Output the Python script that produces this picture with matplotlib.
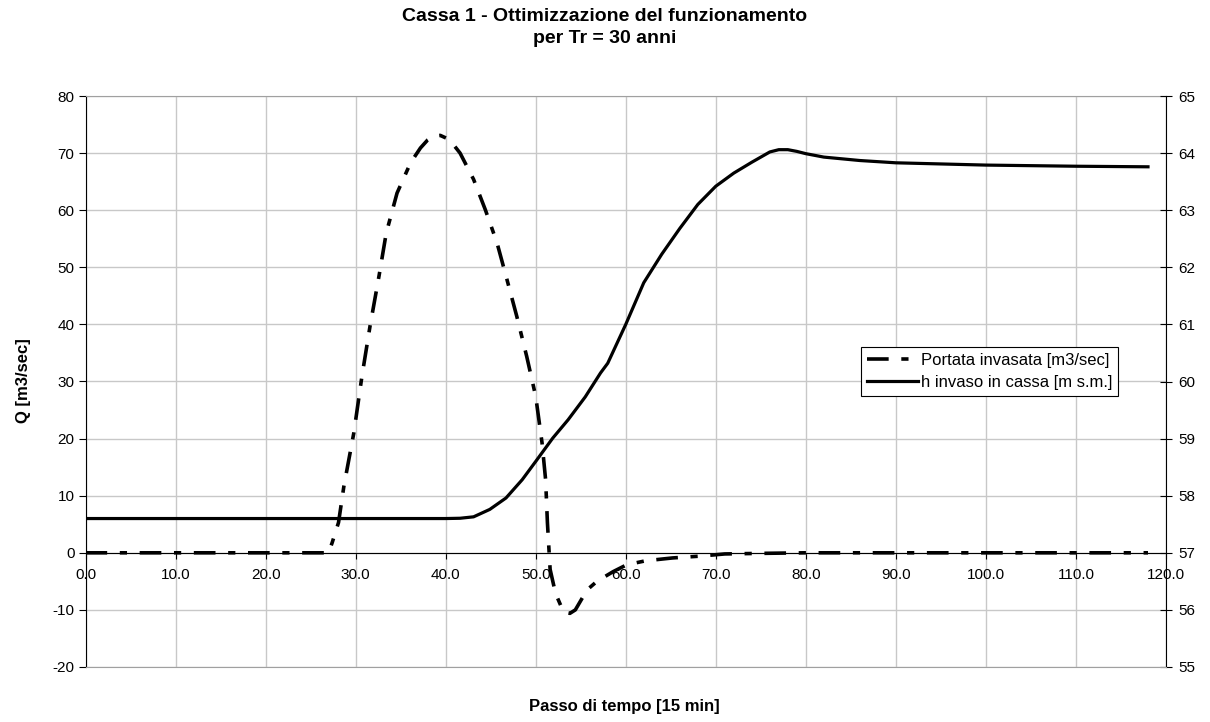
import matplotlib
matplotlib.use('Agg')
import matplotlib.pyplot as plt

plt.rcParams['font.family'] = ['Liberation Sans', 'DejaVu Sans']
plt.rcParams['axes.unicode_minus'] = False

# Portata invasata [m3/sec] (left axis)
x_q = [0, 5, 10, 15, 20, 25, 27.0, 27.4, 28.1, 28.7, 29.8, 30.7, 31.6, 32.6, 33.4, 34.6,
       36.1, 37.2, 38.0, 38.7, 39.4, 40.1, 40.8, 41.6, 43.1, 44.4, 45.7, 46.8, 47.9, 49.0, 50.0,
       50.7, 51.1, 51.3, 51.6, 52.2, 53.1, 53.8, 54.4, 55.7, 56.8, 58.6, 60.1, 62.2,
       65.2, 68.1, 71.0, 75.0, 80.0, 90.0, 100.0, 110.0, 118.0]
q = [0, 0, 0, 0, 0, 0, 0.0, 1.8, 5.3, 11.7, 21.0, 30.9, 39.7, 48.5, 56.0, 63.0,
     68.3, 70.9, 72.3, 73.0, 73.1, 72.6, 71.6, 70.0, 65.4, 60.1, 54.3, 47.9, 41.4, 34.4, 27.4,
     19.3, 12.8, 5.3, -2.9, -7.1, -10.4, -10.6, -10.0, -6.5, -5.0, -3.3, -2.1, -1.4,
     -0.9, -0.6, -0.2, -0.1, 0.0, 0.0, 0.0, 0.0, 0.0]

# h invaso in cassa [m s.m.] (right axis)
x_h = [0, 10, 20, 30, 40, 41.6, 43.1, 44.9, 46.7, 48.5, 50.0, 51.9, 53.6, 55.5, 57.2,
       58.0, 60, 62, 64, 66, 68, 70, 72, 74, 75, 76, 77, 78, 79, 80, 82, 84, 86, 88,
       90, 95, 100, 105, 110, 118]
h = [57.60, 57.60, 57.60, 57.60, 57.60, 57.605, 57.63, 57.76, 57.96, 58.28, 58.60,
     59.01, 59.33, 59.73, 60.15, 60.32, 61.00, 61.73, 62.23, 62.68, 63.10, 63.42,
     63.65, 63.84, 63.93, 64.02, 64.06, 64.06, 64.03, 63.99, 63.93, 63.90, 63.87,
     63.85, 63.83, 63.81, 63.79, 63.78, 63.77, 63.76]

x_ticks = list(range(0, 121, 10))
q_ticks = list(range(-20, 81, 10))
h_ticks = list(range(55, 66, 1))

fig = plt.figure(figsize=(12.1, 7.22), dpi=100)
ax = fig.add_axes([85.5 / 1210, 1 - 667 / 722, (1166 - 85.5) / 1210, (667 - 96) / 722])
ax2 = ax.twinx()

grid_c = '#c8c8c8'
ax.set_xlim(0, 120)
ax.set_ylim(-20, 80)
ax2.set_ylim(55, 65)
ax.set_xticks(x_ticks)
ax.set_xticklabels([f'{v:.1f}' for v in x_ticks])
ax.set_yticks(q_ticks)
ax2.set_yticks(h_ticks)
ax.grid(True, color=grid_c, linewidth=1.0)
ax.set_axisbelow(True)

# spines
ax.spines['bottom'].set_position(('data', 0))
ax.spines['bottom'].set_color('black')
ax.spines['top'].set_color('#a0a0a0')
ax.spines['right'].set_visible(False)
ax.spines['left'].set_color('black')
ax2.spines['left'].set_visible(False)
ax2.spines['top'].set_visible(False)
ax2.spines['bottom'].set_color('#a0a0a0')
ax2.spines['right'].set_color('black')

ax.tick_params(axis='x', direction='out', length=4, pad=7, labelsize=11)
ax.tick_params(axis='y', direction='out', length=5, pad=3, labelsize=11)
ax2.tick_params(axis='y', direction='inout', length=8, pad=5, labelsize=11)

l1, = ax.plot(x_q, q, color='black', linewidth=2.6, dashes=(6, 3.5, 2, 3.5),
              dash_capstyle='butt', label='Portata invasata [m3/sec]')
l2, = ax2.plot(x_h, h, color='black', linewidth=2.3, label='h invaso in cassa [m s.m.]')

leg = ax2.legend(handles=[l1, l2], loc='upper left', bbox_to_anchor=(0.7175, 0.561),
                 borderaxespad=0, fancybox=False, framealpha=1, edgecolor='black',
                 fontsize=12, handlelength=3.1, handletextpad=0.15, borderpad=0.35,
                 labelspacing=0.45)
leg.get_frame().set_linewidth(0.8)

fig.text(0.5, 1 - 8 / 722, 'Cassa 1 - Ottimizzazione del funzionamento\nper Tr = 30 anni',
         ha='center', va='top', fontsize=14, fontweight='bold', linespacing=1.35)
fig.text(24 / 1210, 1 - 381 / 722, 'Q [m3/sec]', rotation=90, ha='center', va='center',
         fontsize=12, fontweight='bold')
fig.text(624 / 1210, 1 - 707 / 722, 'Passo di tempo [15 min]', ha='center', va='center',
         fontsize=12, fontweight='bold')

fig.savefig('out.png', dpi=100)
